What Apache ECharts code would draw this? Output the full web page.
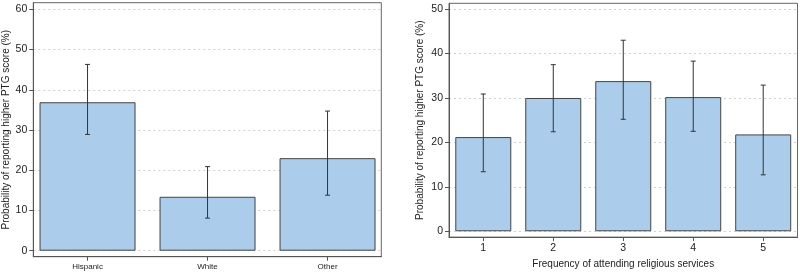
<!DOCTYPE html>
<html><head><meta charset="utf-8">
<script src="https://cdn.jsdelivr.net/npm/echarts@6/dist/echarts.min.js"></script>
<style>html,body{margin:0;padding:0;background:#fff}#c{width:800px;height:274px}</style>
</head><body><div id="c"></div>
<script>
// Left panel: ethnicity
const ethCategories = ['Hispanic', 'White', 'Other'];
const ethValues = [36.9, 13.4, 23.0];
const ethLower = [28.9, 8.1, 13.8];
const ethUpper = [46.3, 20.9, 34.7];
const ethTicks = [0, 10, 20, 30, 40, 50, 60];

// Right panel: religious attendance
const relCategories = ['1', '2', '3', '4', '5'];
const relValues = [21.2, 30.0, 33.8, 30.2, 21.8];
const relLower = [13.4, 22.4, 25.2, 22.5, 12.7];
const relUpper = [30.9, 37.5, 43.0, 38.3, 32.9];
const relTicks = [0, 10, 20, 30, 40, 50];

const yTitle = 'Probability of reporting higher PTG score (%)';
const xTitleRight = 'Frequency of attending religious services';

const FONT = 'Liberation Sans, Arial, Helvetica, sans-serif';
const barFill = '#abcdeb';
const edge = '#444';

function errRender(params, api) {
  const x = api.value(0), lo = api.value(1), hi = api.value(2);
  const t = api.coord([x, hi]), b = api.coord([x, lo]);
  const h = 2.5;
  const st = {stroke: '#333', lineWidth: 1};
  return {type: 'group', children: [
    {type: 'line', shape: {x1: t[0], y1: t[1], x2: b[0], y2: b[1]}, style: st},
    {type: 'line', shape: {x1: t[0]-h, y1: t[1], x2: t[0]+h, y2: t[1]}, style: st},
    {type: 'line', shape: {x1: b[0]-h, y1: b[1], x2: b[0]+h, y2: b[1]}, style: st}
  ]};
}

function yAxis(idx, min, max, ticks, gap) {
  return {
    type: 'value', gridIndex: idx, min: min, max: max,
    name: yTitle, nameLocation: 'middle', nameGap: gap,
    nameTextStyle: {fontFamily: FONT, fontSize: 10, color: '#222'},
    axisLine: {show: true, lineStyle: {color: '#555', width: 1}},
    axisTick: {show: true, length: 4, customValues: ticks, lineStyle: {color: '#555'}},
    axisLabel: {customValues: ticks, fontFamily: FONT, fontSize: 10.5, color: '#222', margin: 6},
    splitLine: {show: true, lineStyle: {color: '#d0d0d0', type: [2, 3], width: 1}}
  };
}

function xAxis(idx, min, max, cats, fs, margin, extra) {
  const ticks = cats.map((c, i) => i + 1);
  return Object.assign({
    type: 'value', gridIndex: idx, min: min, max: max,
    axisLine: {show: true, onZero: false, lineStyle: {color: '#555', width: 1}},
    axisTick: {show: true, length: 4, customValues: ticks, lineStyle: {color: '#555'}},
    axisLabel: {customValues: ticks, fontFamily: FONT, fontSize: fs, color: '#222', margin: margin,
      formatter: v => cats[Math.round(v) - 1]},
    splitLine: {show: false}
  }, extra || {});
}

const chart = echarts.init(document.getElementById('c'), null, {renderer: 'canvas'});
chart.setOption({
  animation: false,
  backgroundColor: '#fff',
  grid: [
    {left: 33.3, top: 2.7, width: 348, height: 254, show: true, borderColor: '#666', borderWidth: 1},
    {left: 449, top: 3.3, width: 348.5, height: 241.4, show: true, borderColor: '#666', borderWidth: 1}
  ],
  xAxis: [
    xAxis(0, 0.548, 3.448, ethCategories, 8, 6),
    xAxis(1, 0.51, 5.49, relCategories, 10.5, 6, {
      name: xTitleRight, nameLocation: 'middle', nameGap: 17,
      nameTextStyle: {fontFamily: FONT, fontSize: 10, color: '#222'}
    })
  ],
  yAxis: [
    yAxis(0, -1.49, 61.64, ethTicks, 22),
    yAxis(1, -1.31, 51.31, relTicks, 24)
  ],
  series: [
    {type: 'bar', xAxisIndex: 0, yAxisIndex: 0, barWidth: 96,
     data: ethValues.map((v, i) => [i + 1, v]),
     itemStyle: {color: barFill, borderColor: edge, borderWidth: 1}},
    {type: 'custom', xAxisIndex: 0, yAxisIndex: 0, renderItem: errRender, z: 5,
     data: ethValues.map((v, i) => [i + 1, ethLower[i], ethUpper[i]])},
    {type: 'bar', xAxisIndex: 1, yAxisIndex: 1, barWidth: 56,
     data: relValues.map((v, i) => [i + 1, v]),
     itemStyle: {color: barFill, borderColor: edge, borderWidth: 1}},
    {type: 'custom', xAxisIndex: 1, yAxisIndex: 1, renderItem: errRender, z: 5,
     data: relValues.map((v, i) => [i + 1, relLower[i], relUpper[i]])}
  ]
});
</script></body></html>
